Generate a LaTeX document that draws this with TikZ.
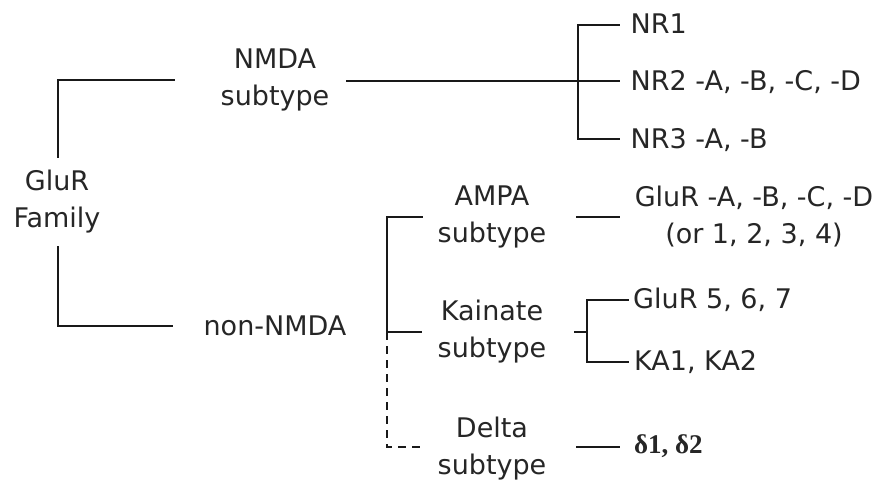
\documentclass[tikz,border=0pt]{standalone}
\usepackage{fontspec}
\setmainfont{DejaVu Sans}
\newfontfamily\greekserif{Liberation Serif}
\begin{document}
\begin{tikzpicture}[x=1pt,y=-1pt,
  wire/.style={line width=1.3pt, draw=black!90, line cap=rect},
  dwire/.style={wire, line cap=butt, dash pattern=on 8pt off 6pt},
  lbl/.style={inner sep=0pt, text=black!85, font=\fontsize{27}{37}\selectfont, align=center},
  leaf/.style={lbl, anchor=base west}]
\useasboundingbox (0,0) rectangle (885,483);
\fill[white] (0,0) rectangle (885,483);

% ---- labels ----
\node[lbl] (glur)    at (57,201.5)  {GluR\\Family};
\node[lbl] (nmda)    at (275,79.5)  {NMDA\\subtype};
\node[lbl] (nonnmda) at (275,326)   {non-NMDA};
\node[lbl] (ampa)    at (492,217)   {AMPA\\subtype};
\node[lbl] (kain)    at (492,331.5) {Kainate\\subtype};
\node[lbl] (delta)   at (492,448.5) {Delta\\subtype};

\node[leaf] (nr1) at (630.5,33)  {NR1};
\node[leaf] (nr2) at (630.5,90)  {NR2 -A, -B, -C, -D};
\node[leaf] (nr3) at (630.5,148) {NR3 -A, -B};
\node[lbl]  (glura) at (754,217) {GluR -A, -B, -C, -D\\(or 1, 2, 3, 4)};
\node[leaf] (glu5) at (633,308) {GluR 5, 6, 7};
\node[leaf] (ka)   at (634,370) {KA1, KA2};
\node[leaf, font=\fontsize{27}{30}\greekserif\bfseries] (dsub) at (634,453) {δ1, δ2};

% ---- junction points ----
\coordinate (rootUp)   at (58,157);
\coordinate (rootDn)   at (58,247);
\coordinate (toNmda)   at (174,80);
\coordinate (toNon)    at (172,326);
\coordinate (nmdaOut)  at (347,81);
\coordinate (nrBot)    at (578,139);
\coordinate (nr1In)    at (619,25);
\coordinate (nr2In)    at (619,81);
\coordinate (nr3In)    at (619,139);
\coordinate (subMid)   at (387,332);
\coordinate (ampaIn)   at (422,217);
\coordinate (kainIn)   at (421,332);
\coordinate (deltaIn)  at (421,447);
\coordinate (ampaOut)  at (577,217);
\coordinate (gluraIn)  at (619,217);
\coordinate (kainOut)  at (575,332);
\coordinate (kainBar)  at (587,332);
\coordinate (kBot)     at (587,362);
\coordinate (glu5In)   at (628,300);
\coordinate (kaIn)     at (628,362);
\coordinate (deltaOut) at (577,447);
\coordinate (dsubIn)   at (619,447);

% ---- family split ----
\draw[wire] (rootUp) |- (toNmda);
\draw[wire] (rootDn) |- (toNon);

% ---- NMDA branch ----
\draw[wire] (nmdaOut) -- (nr2In);
\draw[wire] (nr1In) -| (nrBot) -- (nr3In);

% ---- non-NMDA subtypes ----
\draw[wire] (ampaIn) -| (subMid) -- (kainIn);
\draw[dwire] (subMid) |- (deltaIn);

% ---- subunits ----
\draw[wire] (ampaOut) -- (gluraIn);
\draw[wire] (kainOut) -- (kainBar);
\draw[wire] (glu5In) -| (kBot) -- (kaIn);
\draw[wire] (deltaOut) -- (dsubIn);
\end{tikzpicture}
\end{document}
